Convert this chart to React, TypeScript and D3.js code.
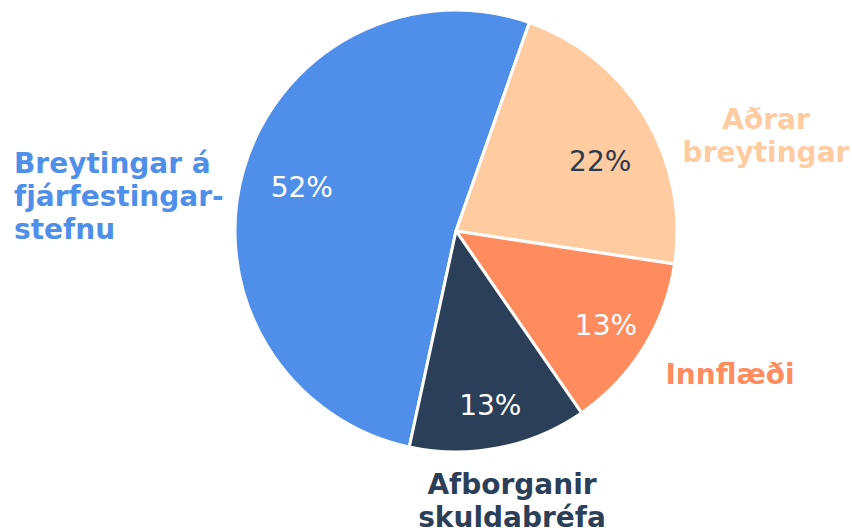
import React, { useEffect, useRef } from 'react';
import * as d3 from 'd3';

const categories = ['Breytingar á fjárfestingarstefnu', 'Aðrar breytingar', 'Innflæði', 'Afborganir skuldabréfa'];
const values = [52, 22, 13, 13];
const colors = ['#4f8fea', '#ffcba0', '#ff8c5f', '#2b4058'];
const pctColors = ['#ffffff', '#2b3a4f', '#ffffff', '#ffffff'];
const labelLines = [['Breytingar á', 'fjárfestingar-', 'stefnu'], ['Aðrar', 'breytingar'], ['Innflæði'], ['Afborganir', 'skuldabréfa']];

const W = 852;
const H = 528;

export default function App() {
  const svgRef = useRef<SVGSVGElement>(null);

  useEffect(() => {
    const svg = d3.select(svgRef.current);
    svg.selectAll('*').remove();
    svg.attr('width', W).attr('height', H);

    const cx = 456;
    const cy = 231;
    const r = 221;
    const start = (19.4 - 187.2) * Math.PI / 180;

    const pie = d3.pie<number>().sort(null).value(d => d)
      .startAngle(start).endAngle(start + 2 * Math.PI);
    const arcs = pie(values);
    const arc = d3.arc<d3.PieArcDatum<number>>().innerRadius(0).outerRadius(r);

    // narrow slices push their text further out, like the original
    const textPos = (d: d3.PieArcDatum<number>) => {
      const span = d.endAngle - d.startAngle;
      const k = span > 1.2 ? 0.725 : 0.8;
      let a = (d.startAngle + d.endAngle) / 2;
      if (span > 1.2 && span < 2) a += 0.09;
      return [Math.sin(a) * r * k, -Math.cos(a) * r * k];
    };

    const g = svg.append('g').attr('transform', `translate(${cx},${cy})`);

    g.selectAll('path.slice')
      .data(arcs)
      .enter()
      .append('path')
      .attr('class', 'slice')
      .attr('d', arc)
      .attr('fill', (d, i) => colors[i])
      .attr('stroke', '#fff')
      .attr('stroke-width', 3)
      .attr('stroke-linejoin', 'round');

    g.selectAll('text.pct')
      .data(arcs)
      .enter()
      .append('text')
      .attr('class', 'pct')
      .attr('transform', d => `translate(${textPos(d)})`)
      .attr('text-anchor', 'middle')
      .attr('dy', '0.36em')
      .style('font-family', '"DejaVu Sans", Verdana, sans-serif')
      .style('font-size', '28px')
      .style('fill', (d, i) => pctColors[i])
      .text(d => `${d.data}%`);

    // outside category labels
    const labelPos = [
      { x: 14, y: 173, anchor: 'start' },
      { x: 766, y: 129, anchor: 'middle' },
      { x: 730, y: 384, anchor: 'middle' },
      { x: 512, y: 494, anchor: 'middle' }
    ];

    categories.forEach((c, i) => {
      const t = svg.append('text')
        .attr('x', labelPos[i].x)
        .attr('y', labelPos[i].y)
        .attr('text-anchor', labelPos[i].anchor)
        .style('font-family', '"DejaVu Sans", Verdana, sans-serif')
        .style('font-weight', 'bold')
        .style('font-size', '28px')
        .style('fill', colors[i]);
      labelLines[i].forEach((line, j) => {
        t.append('tspan')
          .attr('x', labelPos[i].x)
          .attr('dy', j === 0 ? 0 : 33)
          .text(line);
      });
    });
  }, []);

  return (
    <div style={{ width: W, height: H }}>
      <svg ref={svgRef} style={{ display: 'block', position: 'absolute', left: 0, top: 0 }} />
    </div>
  );
}
